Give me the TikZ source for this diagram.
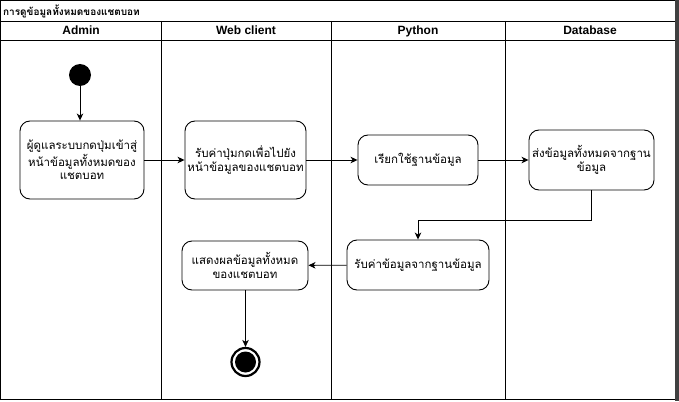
\documentclass[tikz,border=0pt]{standalone}
\usepackage{fontspec}
\setmainfont{Liberation Sans}
\newfontfamily\thai[Script=Thai]{Loma}
\usetikzlibrary{arrows.meta}
\begin{document}
\begin{tikzpicture}[x=1pt,y=-1pt,
  frame/.style={line width=1pt},
  lane/.style={line width=0.9pt},
  hdr/.style={font=\fontsize{12}{14}\selectfont\bfseries, anchor=base, inner sep=0pt},
  box/.style={draw, rounded corners=10pt, line width=0.9pt, align=center, inner sep=0pt,
    font=\thai\fontsize{11.5}{13.5}\selectfont},
  arr/.style={line width=0.9pt, -{Stealth[length=7pt,width=6.5pt,inset=2pt]}}]
\useasboundingbox (0,0) rectangle (679,401);
\fill[white] (0,0) rectangle (679,401);
% frame and lanes
\draw[frame] (0.5,1) rectangle (675,399.5);
\fill[black!75] (675,0) rectangle (679,401);
\draw[lane] (0.5,21) -- (675,21);
\draw[lane] (0.5,40) -- (675,40);
\draw[lane] (161,21) -- (161,399.5);
\draw[lane] (331,21) -- (331,399.5);
\draw[lane] (505,21) -- (505,399.5);
\node[anchor=west, font=\thai\fontsize{10}{12}\selectfont\bfseries, inner sep=0pt] (title) at (3,11) {การดูข้อมูลทั้งหมดของแชตบอท};
\node[hdr] (hA) at (81,35) {Admin};
\node[hdr] (hW) at (246,35) {Web client};
\node[hdr] (hP) at (418,35) {Python};
\node[hdr] (hD) at (590,35) {Database};
% nodes
\node[circle, fill=black, minimum size=22pt, inner sep=0pt] (start) at (80,75) {};
\node[box, minimum width=124pt, minimum height=78pt] (b1) at (82,160) {ผู้ดูแลระบบกดปุ่มเข้าสู่\\หน้าข้อมูลทั้งหมดของ\\แชตบอท};
\node[box, minimum width=121pt, minimum height=78pt] (b2) at (245.5,160) {รับค่าปุ่มกดเพื่อไปยัง\\หน้าข้อมูลของแชตบอท};
\node[box, minimum width=120pt, minimum height=50pt] (b3) at (418,160) {เรียกใช้ฐานข้อมูล};
\node[box, minimum width=125pt, minimum height=60pt] (b4) at (591.5,160) {ส่งข้อมูลทั้งหมดจากฐาน\\ข้อมูล};
\node[box, minimum width=142pt, minimum height=50pt] (b5) at (418,265) {รับค่าข้อมูลจากฐานข้อมูล};
\node[box, minimum width=126pt, minimum height=49pt] (b6) at (245,265.5) {แสดงผลข้อมูลทั้งหมด\\ของแชตบอท};
\node[circle, draw, line width=2.2pt, minimum size=28pt, inner sep=0pt] (end) at (245.5,362) {};
\fill (end.center) circle (10.5pt);
\coordinate (k) at (591.5,220.5);
% edges
\draw[arr] (start) -- (start |- b1.north);
\draw[arr] (b1) -- (b2);
\draw[arr] (b2) -- (b3);
\draw[arr] (b3) -- (b4);
\draw[line width=0.9pt] (b4.south) -- (k);
\draw[arr] (k) -| (b5.north);
\draw[arr] (b5) -- (b6);
\draw[arr] (b6.south -| end) -- (end);
\end{tikzpicture}
\end{document}
